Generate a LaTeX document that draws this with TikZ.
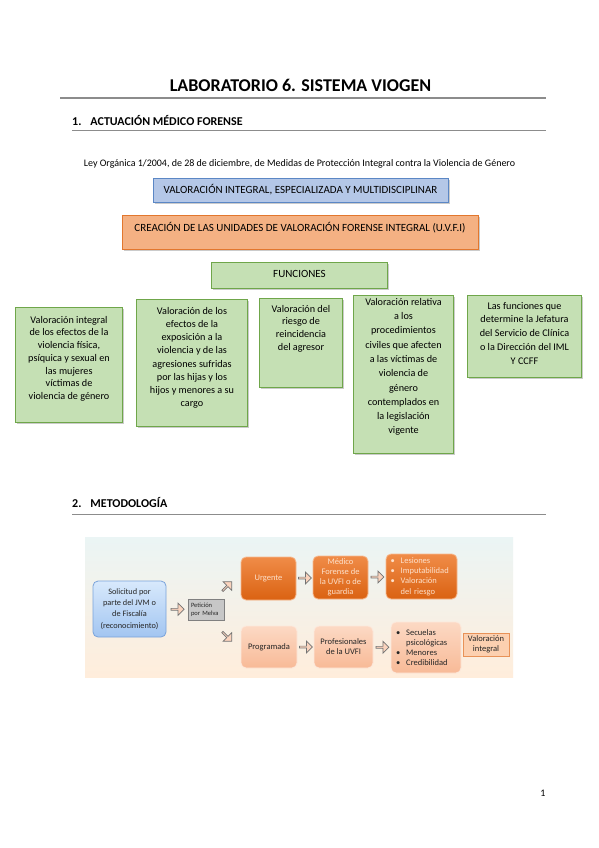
\documentclass[tikz,border=0pt]{standalone}
\usepackage{fontspec}
\setmainfont{Carlito}
\usetikzlibrary{shapes.arrows,shadows}

\definecolor{azulclaro}{HTML}{B4C7E7}
\definecolor{azulborde}{HTML}{5B87C5}
\definecolor{naranjaclaro}{HTML}{F4B183}
\definecolor{naranjaborde}{HTML}{E2772E}
\definecolor{verdeclaro}{HTML}{C5E0B4}
\definecolor{verdeborde}{HTML}{6FA64A}
\definecolor{regla}{HTML}{8C8C8C}
\definecolor{naranjaoscuro}{HTML}{DA6212}
\definecolor{naranjamedio}{HTML}{F08C48}
\definecolor{naranjatexto}{HTML}{FDE0CA}
\definecolor{naranjafilo}{HTML}{F6B98F}
\definecolor{melocoton}{HTML}{FCD9C4}
\definecolor{melocotonosc}{HTML}{F8BA97}
\definecolor{melocotonfilo}{HTML}{FDE8DB}
\definecolor{celeste}{HTML}{D8E9FC}
\definecolor{celesteosc}{HTML}{A2C5F1}
\definecolor{celesteborde}{HTML}{7AA3DA}
\definecolor{flechafondo}{HTML}{FAD3BD}
\definecolor{texto}{HTML}{262626}

\begin{document}
\begin{tikzpicture}[x=1pt, y=-1pt,
  caja/.style={draw, line width=1pt,
    drop shadow={shadow xshift=1.5pt, shadow yshift=-1.5pt, fill=black!40}},
  cajaverde/.style={caja, draw=verdeborde, fill=verdeclaro, anchor=north west, inner sep=0pt},
  textoverde/.style={anchor=north, align=center, inner sep=0pt},
  bloque/.style={rounded corners=5pt, draw=#1, line width=0.8pt, align=center, inner sep=1pt},
  flecha/.style={single arrow, draw=black!55, fill=flechafondo, line width=0.7pt,
    minimum height=13pt, minimum width=12pt, single arrow head extend=2pt, inner sep=0pt}]
  % La page
  \fill[white] (0,0) rectangle (599,848);
  \useasboundingbox (0,0) rectangle (599,848);

  % Le titre
  \node[anchor=base, inner sep=0pt, font=\bfseries\fontsize{18}{21}\selectfont] (titulo) at (300.5,92) {LABORATORIO 6. SISTEMA VIOGEN};
  \draw[regla, line width=1.5pt] (60,98) -- (546,98);

  % Section 1
  \node[anchor=base west, inner sep=0pt, font=\bfseries\fontsize{12}{14}\selectfont] (sec1) at (72,125) {1.\hspace{9pt}ACTUACIÓN MÉDICO FORENSE};
  \draw[regla, line width=1pt] (72,131) -- (546,131);

  \node[anchor=base, inner sep=0pt, font=\fontsize{10}{12}\selectfont] (ley) at (299.5,166) {Ley Orgánica 1/2004, de 28 de diciembre, de Medidas de Protección Integral contra la Violencia de Género};

  \node[caja, draw=azulborde, fill=azulclaro, minimum width=295pt, minimum height=24pt, font=\fontsize{11}{13}\selectfont] (valoracion) at (300.5,190) {VALORACIÓN INTEGRAL, ESPECIALIZADA Y MULTIDISCIPLINAR};
  \node[caja, draw=naranjaborde, fill=naranjaclaro, minimum width=356pt, minimum height=34pt, text height=8pt, text depth=9pt, font=\fontsize{11}{13}\selectfont] (uvfi) at (300,232) {CREACIÓN DE LAS UNIDADES DE VALORACIÓN FORENSE INTEGRAL (U.V.F.I)};
  \node[caja, draw=verdeborde, fill=verdeclaro, minimum width=176pt, minimum height=26pt, text height=8pt, text depth=4pt, font=\fontsize{11}{13}\selectfont] (funciones) at (299.5,275) {FUNCIONES};

  % Les fonctions
  \node[cajaverde, minimum width=107pt, minimum height=115pt] (f1) at (15,307) {};
  \node[cajaverde, minimum width=111pt, minimum height=127pt] (f2) at (136,299) {};
  \node[cajaverde, minimum width=83pt, minimum height=89pt] (f3) at (259,298) {};
  \node[cajaverde, minimum width=100pt, minimum height=158pt] (f4) at (353,295) {};
  \node[cajaverde, minimum width=114pt, minimum height=82pt] (f5) at (467,295) {};

  \node[textoverde, font=\fontsize{10.2}{12.7}\selectfont] (t1) at ([yshift=-9pt]f1.north) {Valoración integral\\de los efectos de la\\violencia física,\\psíquica y sexual en\\las mujeres\\víctimas de\\violencia de género};
  \node[textoverde, font=\fontsize{10.2}{13.2}\selectfont] (t2) at ([yshift=-8pt]f2.north) {Valoración de los\\efectos de la\\exposición a la\\violencia y de las\\agresiones sufridas\\por las hijas y los\\hijos y menores a su\\cargo};
  \node[textoverde, font=\fontsize{10.2}{12.6}\selectfont] (t3) at ([yshift=-7pt]f3.north) {Valoración del\\riesgo de\\reincidencia\\del agresor};
  \node[textoverde, font=\fontsize{10.2}{14.3}\selectfont] (t4) at ([yshift=-3pt]f4.north) {Valoración relativa\\a los\\procedimientos\\civiles que afecten\\a las víctimas de\\violencia de\\género\\contemplados en\\la legislación\\vigente};
  \node[textoverde, font=\fontsize{10.2}{13.7}\selectfont] (t5) at ([yshift=-7pt]f5.north) {Las funciones que\\determine la Jefatura\\del Servicio de Clínica\\o la Dirección del IML\\Y CCFF};

  % Section 2
  \node[anchor=base west, inner sep=0pt, font=\bfseries\fontsize{12}{14}\selectfont] (sec2) at (72,507) {2.\hspace{9pt}METODOLOGÍA};
  \draw[regla, line width=1pt] (72,514) -- (546,514);

  % Le schéma de la méthodologie
  \shade[top color=white!92!teal, bottom color=white!86!orange] (85,537) rectangle (513,677);

  \node[bloque=celesteborde, top color=celeste, bottom color=celesteosc, minimum width=73pt, minimum height=56pt, text=texto, font=\fontsize{8.3}{11.3}\selectfont] (sol) at (129.5,609) {Solicitud por\\parte del JVM o\\de Fiscalía\\(reconocimiento)};
  \node[draw=black!50, fill=black!22, text width=30pt, inner xsep=3pt, minimum height=21pt, align=left, text=texto, font=\fontsize{6.5}{8}\selectfont] (pet) at (206,609.5) {Petición\\por Melva};

  \node[bloque=naranjafilo, top color=naranjamedio, bottom color=naranjaoscuro, minimum width=55pt, minimum height=43pt, text=naranjatexto, font=\fontsize{8.5}{10}\selectfont] (urg) at (268.5,578.5) {Urgente};
  \node[bloque=naranjafilo, top color=naranjamedio, bottom color=naranjaoscuro, minimum width=55pt, minimum height=43pt, text=naranjatexto, font=\fontsize{8.5}{10}\selectfont] (med) at (340.5,577.5) {Médico\\Forense de\\la UVFI o de\\guardia};
  \node[bloque=naranjafilo, top color=naranjamedio, bottom color=naranjaoscuro, text width=62pt, inner xsep=4.5pt, minimum height=45pt, align=left, text=naranjatexto, font=\fontsize{8.5}{10.2}\selectfont] (res1) at (421.5,576.5) {\textbullet\hspace{6pt}Lesiones\\\textbullet\hspace{6pt}Imputabilidad\\\textbullet\hspace{6pt}Valoración\\\phantom{\textbullet}\hspace{6pt}del riesgo};

  \node[bloque=melocotonfilo, top color=melocoton, bottom color=melocotonosc, minimum width=56pt, minimum height=42pt, text=texto, font=\fontsize{8.5}{10}\selectfont] (prog) at (269,647) {Programada};
  \node[bloque=melocotonfilo, top color=melocoton, bottom color=melocotonosc, minimum width=59pt, minimum height=42pt, text=texto, font=\fontsize{8.5}{10}\selectfont] (prof) at (343.5,647) {Profesionales\\de la UVFI};
  \node[bloque=melocotonfilo, top color=melocoton, bottom color=melocotonosc, text width=60pt, inner xsep=5pt, minimum height=51pt, align=left, text=texto, font=\fontsize{8.5}{10}\selectfont] (res2) at (426,647.5) {\textbullet\hspace{6pt}Secuelas\\\phantom{\textbullet}\hspace{6pt}psicológicas\\\textbullet\hspace{6pt}Menores\\\textbullet\hspace{6pt}Credibilidad};
  \node[draw=naranjaborde!80, fill=melocoton!90!orange, line width=0.8pt, minimum width=46pt, minimum height=23pt, align=center, inner sep=1pt, text=texto, font=\fontsize{8.5}{10}\selectfont] (vint) at (486,644.5) {Valoración\\integral};

  % Les flèches
  \path (sol.east) -- node[flecha] (a1) {} (pet.west);
  \path (pet.north) -- node[flecha, pos=0.6, rotate=45] (a2) {} (urg.west);
  \path (pet.south) -- node[flecha, pos=0.6, rotate=-45] (a3) {} (prog.west);
  \path (urg.east) -- node[flecha] (a4) {} (med.west);
  \path (med.east) -- node[flecha] (a5) {} (res1.west);
  \path (prog.east) -- node[flecha] (a6) {} (prof.west);
  \path (prof.east) -- node[flecha] (a7) {} (res2.west);

  % Numéro de page
  \node[inner sep=0pt, font=\fontsize{10}{12}\selectfont] (pagina) at (543,793) {1};
\end{tikzpicture}
\end{document}
